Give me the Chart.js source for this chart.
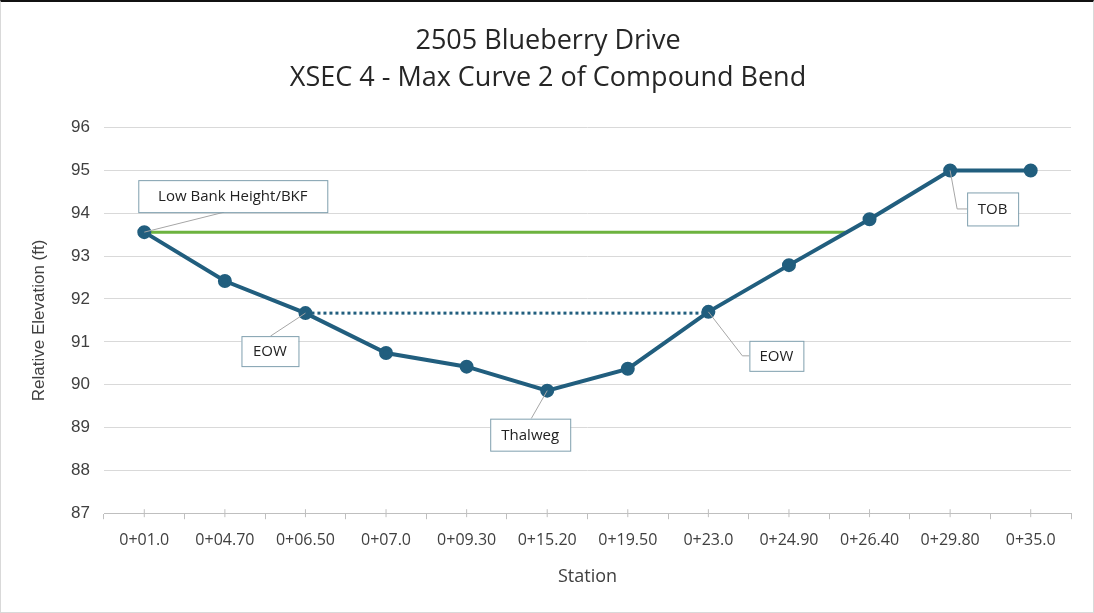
<!DOCTYPE html>
<html>
<head>
<meta charset="utf-8">
<script src="https://cdn.jsdelivr.net/npm/chart.js@4.4.1/dist/chart.umd.min.js"></script>
<style>
  html, body { margin: 0; padding: 0; background: #fff; }
  .wrap { position: relative; width: 1094px; height: 613px; box-sizing: border-box;
          border-top: 2px solid #111; border-left: 1px solid #d9d9d9; border-right: 1px solid #d9d9d9; border-bottom: 1px solid #d9d9d9; }
</style>
</head>
<body>
<div class="wrap"><canvas id="xsec"></canvas></div>
<script>
const stations = ['0+01.0', '0+04.70', '0+06.50', '0+07.0', '0+09.30', '0+15.20',
  '0+19.50', '0+23.0', '0+24.90', '0+26.40', '0+29.80', '0+35.0'];
const elevation = [93.56, 92.42, 91.67, 90.74, 90.42, 89.86, 90.37, 91.70, 92.79, 93.86, 95.0, 95.0];
const bankfull = [{ x: 0, y: 93.56 }, { x: 8.7, y: 93.56 }];
const waterSurface = [{ x: 2, y: 91.67 }, { x: 7, y: 91.67 }];
const yTicks = [87, 88, 89, 90, 91, 92, 93, 94, 95, 96];

// callout label, station index, box offset from point (px), leader bend
const callouts = [
  { text: 'Low Bank Height/BKF', i: 0, dx: -6, dy: -52, w: 189, h: 32, anchor: 'bottom', ax: 86 },
  { text: 'EOW', i: 2, dx: -64, dy: 23, w: 57, h: 30, anchor: 'top', ax: 29 },
  { text: 'Thalweg', i: 5, dx: -57, dy: 28, w: 80, h: 32, anchor: 'top', ax: 41 },
  { text: 'EOW', i: 7, dx: 41, dy: 29, w: 54, h: 30, anchor: 'left', bendX: 34 },
  { text: 'TOB', i: 10, dx: 17, dy: 22, w: 51, h: 33, anchor: 'left', bendX: 7 }
];

const calloutPlugin = {
  id: 'callouts',
  afterDatasetsDraw(chart) {
    const { ctx, scales } = chart;
    ctx.save();
    callouts.forEach(c => {
      const px = scales.x.getPixelForValue(c.i);
      const py = scales.y.getPixelForValue(elevation[c.i]);
      const bx = px + c.dx, by = py + c.dy;
      ctx.strokeStyle = '#a6a6a6';
      ctx.lineWidth = 1;
      ctx.beginPath();
      ctx.moveTo(px, py);
      if (c.anchor === 'left') {
        const my = by + c.h / 2;
        ctx.lineTo(px + c.bendX, my);
        ctx.lineTo(bx, my);
      } else if (c.anchor === 'bottom') {
        ctx.lineTo(bx + c.ax, by + c.h);
      } else {
        ctx.lineTo(bx + c.ax, by);
      }
      ctx.stroke();
      ctx.fillStyle = '#fff';
      ctx.fillRect(bx, by, c.w, c.h);
      ctx.strokeStyle = '#7f9fae';
      ctx.strokeRect(bx + 0.5, by + 0.5, c.w, c.h);
      ctx.fillStyle = '#222';
      ctx.textAlign = 'center';
      ctx.textBaseline = 'middle';
      ctx.font = '15px "Open Sans", "Liberation Sans", sans-serif';
      ctx.fillText(c.text, bx + c.w / 2, by + c.h / 2 + 1);
    });
    // small tick marks at category centres on the bottom axis
    const yb = scales.y.getPixelForValue(87);
    ctx.strokeStyle = '#bfbfbf';
    stations.forEach((s, i) => {
      const x = scales.x.getPixelForValue(i);
      ctx.beginPath();
      ctx.moveTo(x, yb - 4);
      ctx.lineTo(x, yb + 4);
      ctx.stroke();
    });
    ctx.restore();
  }
};

new Chart(document.getElementById('xsec'), {
  type: 'line',
  data: {
    labels: stations,
    datasets: [
      {
        label: 'Bankfull',
        data: bankfull,
        xAxisID: 'x2',
        borderColor: '#6db33f',
        borderWidth: 3,
        pointRadius: 0,
        order: 3
      },
      {
        label: 'Water surface',
        data: waterSurface,
        xAxisID: 'x2',
        borderColor: '#215e7e',
        borderWidth: 3,
        borderDash: [3, 3],
        pointRadius: 0,
        order: 2
      },
      {
        label: 'Ground',
        data: elevation,
        xAxisID: 'x',
        borderColor: '#215e7e',
        backgroundColor: '#215e7e',
        borderWidth: 4,
        pointRadius: 5,
        pointHoverRadius: 5,
        tension: 0,
        order: 1
      }
    ]
  },
  options: {
    responsive: true,
    maintainAspectRatio: false,
    animation: false,
    layout: { padding: { left: 24, right: 22, top: 8, bottom: 20 } },
    plugins: {
      legend: { display: false },
      tooltip: { enabled: false },
      title: {
        display: true,
        text: ['2505 Blueberry Drive', 'XSEC 4 - Max Curve 2 of Compound Bend'],
        color: '#262626',
        font: { family: '"Open Sans", sans-serif', size: 27, weight: 'normal', lineHeight: 1.4 },
        padding: { top: 12, bottom: 30 }
      }
    },
    scales: {
      x: {
        type: 'category',
        offset: true,
        grid: { display: true, drawOnChartArea: false, color: '#bfbfbf', tickLength: 6, offset: true },
        border: { display: true, color: '#bfbfbf' },
        ticks: {
          color: '#404040',
          font: { family: '"Open Sans", sans-serif', size: 16 },
          padding: 12,
          maxRotation: 0,
          autoSkip: false
        },
        title: {
          display: true,
          text: 'Station',
          color: '#404040',
          font: { family: '"Open Sans", sans-serif', size: 18 },
          padding: { top: 4 }
        }
      },
      x2: {
        type: 'linear',
        display: false,
        min: -0.5,
        max: 11.5
      },
      y: {
        min: 87,
        max: 96,
        afterBuildTicks(axis) { axis.ticks = yTicks.map(v => ({ value: v })); },
        afterFit(axis) { axis.width = 79; },
        grid: { color: '#d9d9d9', drawTicks: false },
        border: { display: false },
        ticks: {
          color: '#404040',
          font: { family: '"Liberation Sans", Arial, sans-serif', size: 17 },
          padding: 14
        },
        title: {
          display: true,
          text: 'Relative Elevation (ft)',
          color: '#404040',
          font: { family: '"Liberation Sans", Arial, sans-serif', size: 17 },
          padding: { bottom: 4 }
        }
      }
    }
  },
  plugins: [calloutPlugin]
});
</script>
</body>
</html>
